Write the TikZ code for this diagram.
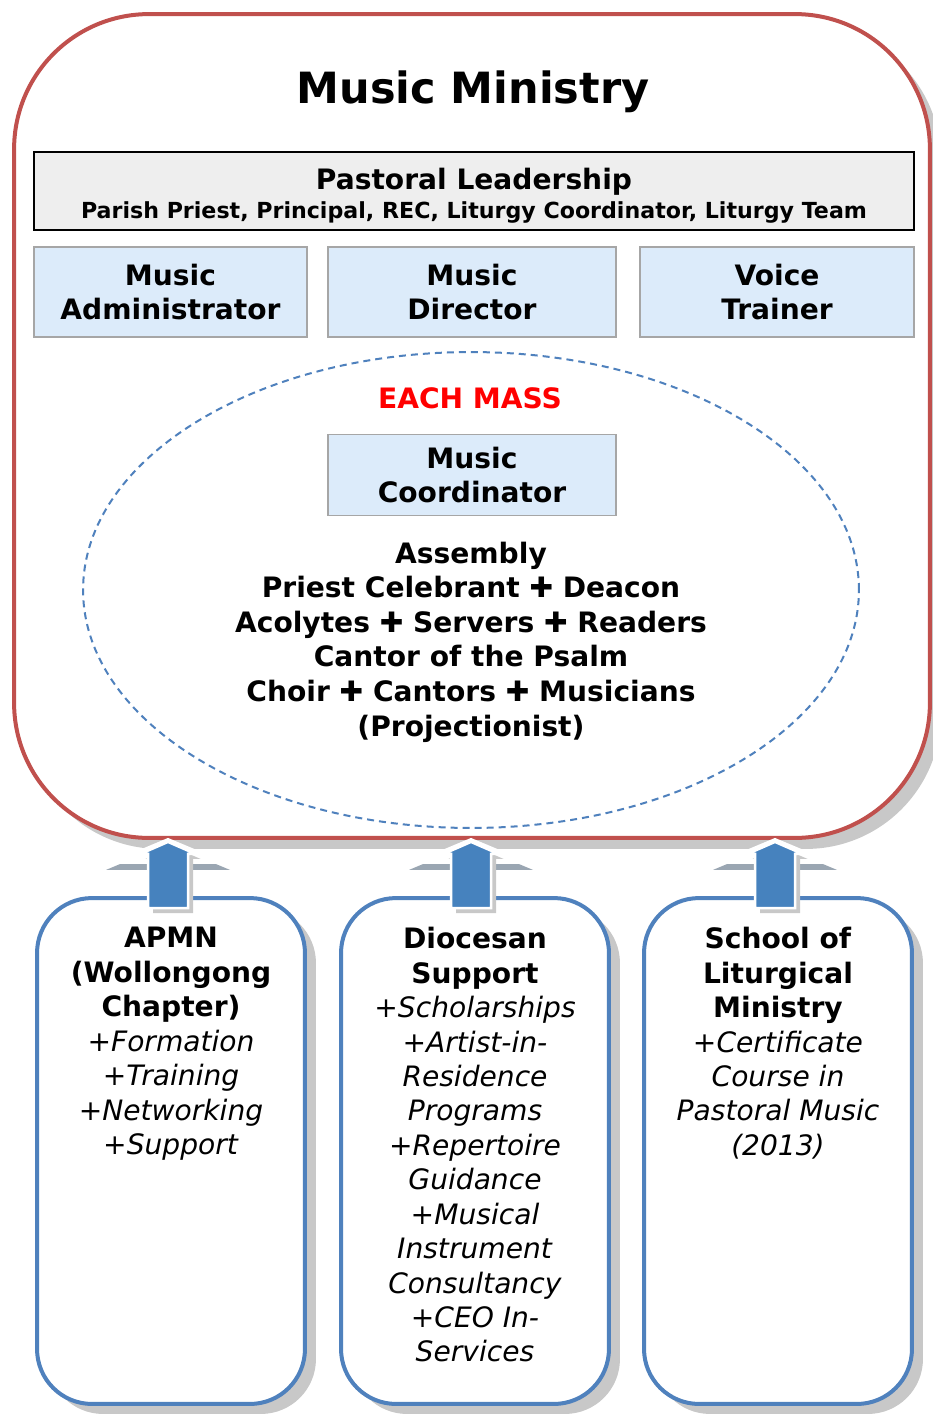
\documentclass[tikz,border=0pt]{standalone}
\usepackage{fontspec}
\setmainfont{DejaVu Sans}
\newfontface\crossfont{DejaVu Sans}
\usetikzlibrary{shapes.geometric}
\usetikzlibrary{shadows}
\usetikzlibrary{calc}
\definecolor{minired}{HTML}{C0504D}
\definecolor{miniblue}{HTML}{4F81BD}
\definecolor{arrowblue}{HTML}{4682BE}
\definecolor{roleblue}{HTML}{DCEBFA}
\definecolor{leadgray}{HTML}{EEEEEE}
\definecolor{shadegray}{HTML}{C8C8C8}
\definecolor{halogray}{HTML}{9AA6B2}
\definecolor{massred}{HTML}{FF0000}

\begin{document}
\begin{tikzpicture}[x = 0.02cm, y = -0.02cm]
\tikzstyle{MinistryStyle}=[draw = minired, line width = 0.08cm, rounded corners = 2.7cm,
fill = white, minimum width = 18.32cm, minimum height = 16.48cm, inner sep = 0pt,
drop shadow = {shadow xshift = 0.22cm, shadow yshift = -0.22cm, fill = shadegray, opacity = 1}]
\tikzstyle{LeadStyle}=[draw = black, line width = 0.04cm, fill = leadgray,
minimum width = 17.6cm, minimum height = 1.56cm, inner sep = 0pt]
\tikzstyle{RoleStyle}=[draw = gray!70, line width = 0.03cm, fill = roleblue, align = center,
minimum height = 1.8cm, inner sep = 0pt, font = \fontsize{16}{19.3}\selectfont\bfseries]
\tikzstyle{SupportStyle}=[draw = miniblue, line width = 0.08cm, rounded corners = 1.1cm,
fill = white, minimum width = 5.36cm, minimum height = 10.12cm, inner sep = 0pt,
drop shadow = {shadow xshift = 0.22cm, shadow yshift = -0.2cm, fill = shadegray, opacity = 1}]
\tikzstyle{SupportText}=[align = center, anchor = north, inner sep = 0pt,
font = \fontsize{16}{19.6}\selectfont]
\tikzstyle{HaloStyle}=[fill = white,
drop shadow = {shadow xshift = 0cm, shadow yshift = -0.12cm, fill = halogray, opacity = 1}]
\tikzstyle{ArrowStyle}=[fill = arrowblue, draw = white, line width = 0.05cm,
drop shadow = {shadow xshift = 0.1cm, shadow yshift = -0.1cm, fill = shadegray, opacity = 1}]
\useasboundingbox (0,0) rectangle (933,1414);
\node[MinistryStyle] (ministry) at (472,426) {};
\node[inner sep = 0pt, font = \fontsize{24.5}{29}\selectfont\bfseries] (title) at (473,92) {Music Ministry};
\node[LeadStyle] (lead) at (474,191) {};
\node[align = center, inner sep = 0pt, font = \fontsize{16}{16.4}\selectfont\bfseries] (leadtext) at (474,196)
{Pastoral Leadership\\
{\fontsize{12.6}{16.4}\selectfont Parish Priest, Principal, REC, Liturgy Coordinator, Liturgy Team}};
\node[RoleStyle, minimum width = 5.46cm] (admin) at (170.5,292) {Music\\Administrator};
\node[RoleStyle, minimum width = 5.76cm] (director) at (472,292) {Music\\Director};
\node[RoleStyle, minimum width = 5.48cm] (trainer) at (777,292) {Voice\\Trainer};
\node[ellipse, draw = miniblue, line width = 0.04cm, dash pattern = on 0.14cm off 0.1cm,
minimum width = 15.52cm, minimum height = 9.52cm, inner sep = 0pt] (mass) at (471,590) {};
\node[inner sep = 0pt, text = massred, font = \fontsize{16}{19}\selectfont\bfseries] (eachmass) at (470,398) {EACH MASS};
\node[RoleStyle, minimum width = 5.76cm, minimum height = 1.62cm] (coordinator) at (472,475) {Music\\Coordinator};
\node[align = center, inner sep = 0pt, font = \fontsize{16}{19.7}\selectfont\bfseries] (people) at (471,642)
{Assembly\\
Priest Celebrant {\crossfont ✚} Deacon\\
Acolytes {\crossfont ✚} Servers {\crossfont ✚} Readers\\
Cantor of the Psalm\\
Choir {\crossfont ✚} Cantors {\crossfont ✚} Musicians\\
(Projectionist)};
\node[SupportStyle] (apmn) at (171,1151) {};
\node[SupportStyle] (diocesan) at (475,1151) {};
\node[SupportStyle] (school) at (778,1151) {};
\node[SupportText] (apmntext) at (171,927)
{\textbf{APMN}\\\textbf{(Wollongong}\\\textbf{Chapter)}\\
\textit{+Formation}\\\textit{+Training}\\\textit{+Networking}\\\textit{+Support}};
\node[SupportText] (diocesantext) at (475,927)
{\textbf{Diocesan}\\\textbf{Support}\\
\textit{+Scholarships}\\\textit{+Artist-in-}\\\textit{Residence}\\\textit{Programs}\\
\textit{+Repertoire}\\\textit{Guidance}\\\textit{+Musical}\\\textit{Instrument}\\
\textit{Consultancy}\\\textit{+CEO In-}\\\textit{Services}};
\node[SupportText] (schooltext) at (778,927)
{\textbf{School of}\\\textbf{Liturgical}\\\textbf{Ministry}\\
\textit{+Certificate}\\\textit{Course in}\\\textit{Pastoral Music}\\\textit{(2013)}};
\fill[HaloStyle] ($(apmn.north |- ministry.south)+(-3,-2)$) -- ($(apmn.north |- ministry.south)+(-65,24)$)
-- ($(apmn.north |- ministry.south)+(59,24)$) -- cycle;
\fill[HaloStyle] ($(diocesan.north |- ministry.south)+(-4,-2)$) -- ($(diocesan.north |- ministry.south)+(-66,24)$)
-- ($(diocesan.north |- ministry.south)+(58,24)$) -- cycle;
\fill[HaloStyle] ($(school.north |- ministry.south)+(-3,-2)$) -- ($(school.north |- ministry.south)+(-65,24)$)
-- ($(school.north |- ministry.south)+(59,24)$) -- cycle;
\filldraw[ArrowStyle] ($(apmn.north)+(-23,12)$) -- ($(apmn.north |- ministry.south)+(-23,14)$) -- ++(-7.5,0)
-- ($(apmn.north |- ministry.south)+(-3,2)$) -- ($(apmn.north |- ministry.south)+(24.5,14)$) -- ++(-7.5,0)
-- ($(apmn.north)+(17,12)$) -- cycle;
\filldraw[ArrowStyle] ($(diocesan.north)+(-24,12)$) -- ($(diocesan.north |- ministry.south)+(-24,14)$) -- ++(-7.5,0)
-- ($(diocesan.north |- ministry.south)+(-4,2)$) -- ($(diocesan.north |- ministry.south)+(23.5,14)$) -- ++(-7.5,0)
-- ($(diocesan.north)+(16,12)$) -- cycle;
\filldraw[ArrowStyle] ($(school.north)+(-23,12)$) -- ($(school.north |- ministry.south)+(-23,14)$) -- ++(-7.5,0)
-- ($(school.north |- ministry.south)+(-3,2)$) -- ($(school.north |- ministry.south)+(24.5,14)$) -- ++(-7.5,0)
-- ($(school.north)+(17,12)$) -- cycle;
\end{tikzpicture}
\end{document}
